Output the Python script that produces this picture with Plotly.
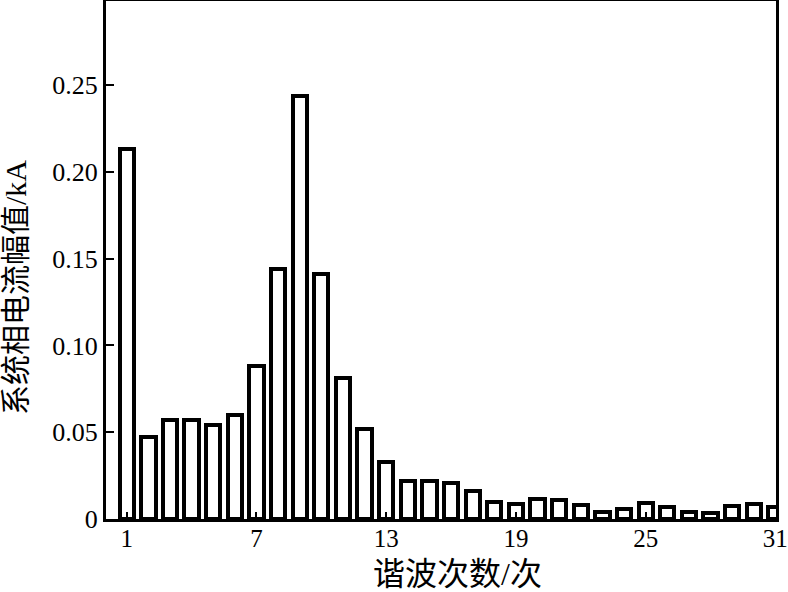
import plotly.graph_objects as go

harmonic_order = list(range(1, 32))
current_kA = [0.213, 0.047, 0.057, 0.057, 0.054, 0.060, 0.088, 0.144, 0.244, 0.141,
              0.081, 0.052, 0.033, 0.022, 0.022, 0.021, 0.016, 0.010, 0.0087, 0.0113,
              0.011, 0.0081, 0.0038, 0.0058, 0.0092, 0.0071, 0.0038, 0.0033, 0.0075,
              0.0085, 0.0067]
x_tick_vals = [1, 7, 13, 19, 25, 31]
y_tick_vals = [0, 0.05, 0.10, 0.15, 0.20, 0.25]
y_tick_text = ["0", "0.05", "0.10", "0.15", "0.20", "0.25"]
x_title = "谐波次数/次"
y_title = "系统相电流幅值/kA"

num_font = "Liberation Serif, Times New Roman, serif"
cjk_font = "Liberation Serif, Noto Sans CJK SC, serif"

fig = go.Figure(go.Bar(
    x=harmonic_order, y=current_kA, width=0.66,
    marker=dict(color="white", line=dict(color="black", width=4)),
    cliponaxis=True,
))

fig.update_layout(
    width=788, height=592,
    margin=dict(l=106, r=12, t=1, b=73, autoexpand=False),
    paper_bgcolor="white", plot_bgcolor="white",
    showlegend=False,
    bargap=0,
    annotations=[
        dict(text=x_title, xref="paper", yref="paper", x=0.524, y=-0.106,
             xanchor="center", yanchor="middle", showarrow=False,
             font=dict(family=cjk_font, size=32, color="black")),
        dict(text=y_title, xref="paper", yref="paper", x=-0.1343, y=0.446,
             xanchor="center", yanchor="middle", showarrow=False, textangle=-90,
             font=dict(family=cjk_font, size=30, color="black")),
    ],
)
fig.update_xaxes(
    range=[0.04, 31.03], tickvals=x_tick_vals,
    ticks="inside", ticklen=7, tickwidth=2, tickcolor="black",
    showline=True, linewidth=3, linecolor="black", mirror=True,
    showgrid=False, zeroline=False, ticklabeloverflow="allow",
    ticklabelstandoff=-5,
    tickfont=dict(family=num_font, size=25, color="black"),
)
fig.update_yaxes(
    range=[0, 0.2985], tickvals=y_tick_vals, ticktext=y_tick_text,
    ticks="inside", ticklen=8, tickwidth=2, tickcolor="black",
    showline=True, linewidth=3, linecolor="black", mirror=True,
    showgrid=False, zeroline=False,
    tickfont=dict(family=num_font, size=26, color="black"),
)

fig.write_html(
    "out.html",
    config={"displayModeBar": False},
    post_script="document.body.style.margin='0';document.body.style.overflow='hidden';",
)
